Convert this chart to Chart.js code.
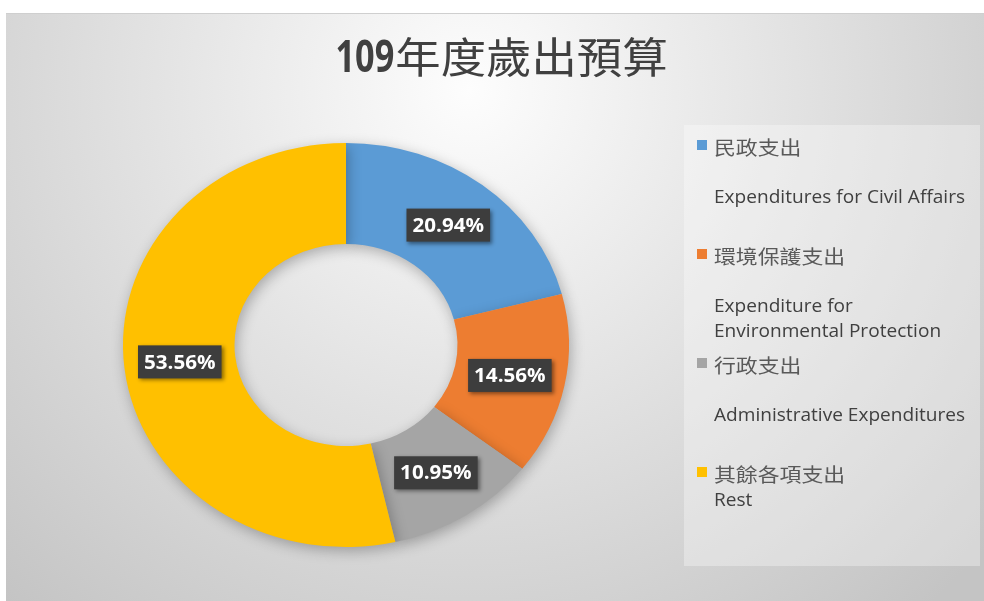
<!DOCTYPE html>
<html>
<head>
<meta charset="utf-8">
<script src="https://cdn.jsdelivr.net/npm/chart.js@4.4.1/dist/chart.umd.min.js"></script>
<style>
  html, body { margin: 0; padding: 0; background: #fff; }
  canvas { display: block; }
</style>
</head>
<body>
<canvas id="myChart" width="984" height="601"></canvas>
<script>
// Chart data
var titleNumber = "109";
var titleText = "年度歲出預算";
var categories = ["民政支出", "環境保護支出", "行政支出", "其餘各項支出"];
var categoryEnglish = [
  ["", "Expenditures for Civil Affairs"],
  ["", "Expenditure for", "Environmental Protection"],
  ["", "Administrative Expenditures"],
  ["Rest"]
];
var shares = [20.94, 14.56, 10.95, 53.56];
var sliceColors = ["#5B9BD5", "#ED7D31", "#A5A5A5", "#FFC000"];

var cjkFont = '"Noto Sans CJK TC", "Noto Sans CJK SC", sans-serif';
var latinFont = '"Open Sans", "Noto Sans", sans-serif';

// the original picture is a little wider than tall, so the ring is an ellipse
var stretchX = 1.052, stretchY = 0.953;

function ringCenter(chart) {
  var a = chart.chartArea;
  return { x: (a.left + a.right) / 2, y: (a.top + a.bottom) / 2 };
}

// draws text squeezed or widened horizontally
function wideText(ctx, txt, x, y, sx) {
  ctx.save();
  ctx.translate(x, y);
  ctx.scale(sx, 1);
  ctx.fillText(txt, 0, 0);
  ctx.restore();
}

// background, frame, legend panel and doughnut shadow
var backgroundPlugin = {
  id: "background",
  beforeDraw: function (chart) {
    var ctx = chart.ctx;
    ctx.save();
    ctx.fillStyle = "#ffffff";
    ctx.fillRect(0, 0, chart.width, chart.height);
    var g = ctx.createRadialGradient(470, 90, 0, 470, 90, 690);
    g.addColorStop(0, "#fdfdfd");
    g.addColorStop(1, "#c4c4c4");
    ctx.fillStyle = g;
    ctx.fillRect(6, 13, chart.width - 6, chart.height - 13);
    ctx.fillStyle = "#cfcfcf";
    ctx.fillRect(6, 13, chart.width - 6, 1);
    ctx.fillStyle = "rgba(255,255,255,0.32)";
    ctx.fillRect(684, 125, 296, 441);
    ctx.restore();
  },
  beforeDatasetsDraw: function (chart) {
    var ctx = chart.ctx;
    var c = ringCenter(chart);
    ctx.save();
    ctx.translate(c.x, c.y);
    ctx.scale(stretchX, stretchY);
    ctx.translate(-c.x, -c.y);
    ctx.shadowColor = "rgba(0,0,0,0.28)";
    ctx.shadowBlur = 14;
    ctx.shadowOffsetX = 2;
    ctx.shadowOffsetY = 4;
  },
  afterDatasetsDraw: function (chart) {
    chart.ctx.restore();
  }
};

// percentage boxes on each slice
var sliceLabelPlugin = {
  id: "sliceLabels",
  afterDatasetsDraw: function (chart) {
    var ctx = chart.ctx;
    var c = ringCenter(chart);
    var meta = chart.getDatasetMeta(0);
    ctx.save();
    ctx.font = "bold 20px " + latinFont;
    ctx.textAlign = "center";
    ctx.textBaseline = "middle";
    meta.data.forEach(function (arc, i) {
      var p = arc.tooltipPosition();
      var x = c.x + (p.x - c.x) * stretchX;
      var y = c.y + (p.y - c.y) * stretchY;
      var txt = shares[i].toFixed(2) + "%";
      var w = ctx.measureText(txt).width * 1.03 + 12;
      var h = 33;
      ctx.shadowColor = "rgba(0,0,0,0.45)";
      ctx.shadowBlur = 4;
      ctx.shadowOffsetX = 2;
      ctx.shadowOffsetY = 2;
      ctx.fillStyle = "#3d3d3d";
      ctx.fillRect(x - w / 2, y - h / 2, w, h);
      ctx.shadowColor = "transparent";
      ctx.fillStyle = "#ffffff";
      wideText(ctx, txt, x, y + 1, 1.03);
    });
    ctx.restore();
  }
};

// title and legend
var textPlugin = {
  id: "titleLegend",
  afterDraw: function (chart) {
    var ctx = chart.ctx;
    ctx.save();
    ctx.textBaseline = "middle";
    ctx.fillStyle = "#404040";
    ctx.font = "bold 44px " + latinFont;
    var w1 = ctx.measureText(titleNumber).width * 0.78;
    ctx.font = "42px " + cjkFont;
    var w2 = ctx.measureText(titleText).width * 1.08;
    var x0 = 501 - (w1 + w2) / 2;
    ctx.font = "bold 44px " + latinFont;
    wideText(ctx, titleNumber, x0, 59, 0.78);
    ctx.font = "42px " + cjkFont;
    wideText(ctx, titleText, x0 + w1 + 1, 57, 1.08);

    // legend
    var slot = 109, lineH = 24.5, top = 148;
    categories.forEach(function (name, i) {
      var y = top + i * slot;
      ctx.fillStyle = sliceColors[i];
      ctx.fillRect(697, y - 8, 10, 10);
      ctx.fillStyle = "#595959";
      ctx.font = "19px " + cjkFont;
      wideText(ctx, name, 714, y, 1.15);
      ctx.fillStyle = "#404040";
      ctx.font = "18px " + latinFont;
      categoryEnglish[i].forEach(function (line, j) {
        wideText(ctx, line, 714, y + (j + 1) * lineH + 1, 1.06);
      });
    });
    ctx.restore();
  }
};

var ctx = document.getElementById("myChart").getContext("2d");
var myChart = new Chart(ctx, {
  type: "doughnut",
  data: {
    labels: categories,
    datasets: [
      {
        data: shares,
        backgroundColor: sliceColors,
        borderWidth: 0,
        hoverOffset: 0
      }
    ]
  },
  options: {
    responsive: false,
    animation: false,
    cutout: "50%",
    layout: { padding: { left: 134, right: 426, top: 133, bottom: 44 } },
    plugins: {
      legend: { display: false },
      tooltip: { enabled: false },
      title: { display: false }
    }
  },
  plugins: [backgroundPlugin, sliceLabelPlugin, textPlugin]
});
</script>
</body>
</html>
